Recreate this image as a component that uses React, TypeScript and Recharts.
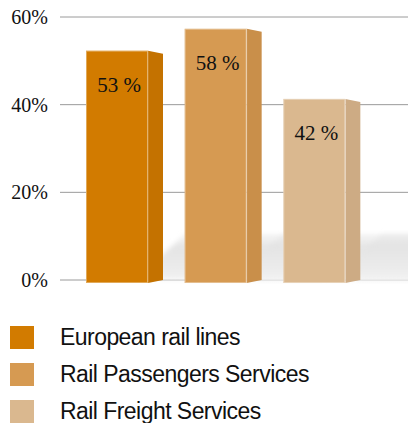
import { BarChart, Bar, XAxis, YAxis, CartesianGrid, LabelList } from 'recharts';

const categories = ['European rail lines', 'Rail Passengers Services', 'Rail Freight Services'];
const shares = [53, 58, 42];
const yTicks = [0, 20, 40, 60];

const frontColors = ['#D27B00', '#D69A52', '#DAB88F'];
const sideColors = ['#C47200', '#C98F4A', '#CDAB84'];

const data = categories.map((name, i) => ({ name, share: shares[i] }));

const FRONT = 62;
const DROP = 3;
const SERIF = 'Liberation Serif, Times New Roman, serif';

function Bar3D(props: any) {
  const { x, y, width, height, index } = props;
  const top = y + DROP;
  const base = y + height;
  const bottom = base + DROP;
  const fx = x + FRONT;
  const sr = x + width;
  const gid = `shadow-grad-${index}`;
  const fid = `shadow-blur-${index}`;
  return (
    <g>
      <defs>
        <linearGradient id={gid} x1="0" y1="0" x2="0" y2="1">
          <stop offset="0" stopColor="#e6e6e6" stopOpacity={0.4} />
          <stop offset="0.3" stopColor="#e4e4e4" />
          <stop offset="0.8" stopColor="#ececec" />
          <stop offset="1" stopColor="#f4f4f4" />
        </linearGradient>
        <filter id={fid} x="-20%" y="-30%" width="140%" height="160%">
          <feGaussianBlur stdDeviation="2.5" />
        </filter>
      </defs>
      <polygon
        points={`${sr - 4},${base} ${sr - 4},${base - 22} ${sr + 22},${base - 46} ${sr + 160},${base - 46} ${sr + 160},${base}`}
        fill={`url(#${gid})`}
        filter={`url(#${fid})`}
      />
      <polygon
        points={`${fx},${top} ${sr},${top + 3} ${sr},${bottom - 3} ${fx},${bottom}`}
        fill={sideColors[index]}
      />
      <rect x={x} y={top} width={FRONT} height={bottom - top} fill={frontColors[index]} />
      <rect x={x + 0.5} y={top + 0.5} width={FRONT - 1} height={bottom - top - 1} fill="none" stroke="#ffffff" strokeOpacity={0.35} />
      <line x1={fx} y1={top} x2={fx} y2={bottom} stroke="#ffffff" strokeOpacity={0.25} />
    </g>
  );
}

function ShareLabel(props: any) {
  const { x, y, value } = props;
  return (
    <text
      x={Number(x) + FRONT / 2 + 2}
      y={Number(y) + DROP + 41}
      textAnchor="middle"
      style={{ fontSize: 21, fontFamily: SERIF }}
      fill="#111"
    >
      {`${value} %`}
    </text>
  );
}

export default function App() {
  return (
    <div style={{ position: 'relative', width: 408, height: 423, background: '#fff', overflow: 'hidden' }}>
      <style>{'body{margin:0}'}</style>
      <BarChart
        width={408}
        height={423}
        data={data}
        margin={{ top: 17, right: 0, bottom: 143, left: 0 }}
      >
        <CartesianGrid vertical={false} stroke="#9a9a9a" strokeWidth={1} />
        <XAxis dataKey="name" hide padding={{ left: 15, right: 37 }} />
        <YAxis
          domain={[0, 60]}
          ticks={yTicks}
          width={60}
          axisLine={false}
          tickLine={false}
          tickSize={6}
          tickMargin={6}
          tickFormatter={(v) => `${v}%`}
          tick={{ fill: '#111', style: { fontSize: 20, fontFamily: SERIF } }}
        />
        <Bar dataKey="share" barSize={77} shape={<Bar3D />} isAnimationActive={false}>
          <LabelList dataKey="share" content={<ShareLabel />} />
        </Bar>
      </BarChart>
      <div style={{ position: 'absolute', top: 318.5, left: 10 }}>
        {categories.map((c, i) => (
          <div key={c} style={{ display: 'flex', alignItems: 'center', height: 37 }}>
            <div style={{ width: 24, height: 23, background: frontColors[i] }} />
            <span
              style={{
                marginLeft: 26,
                fontFamily: "'Liberation Sans', Arial, sans-serif",
                fontSize: 23,
                letterSpacing: -0.55,
                lineHeight: '37px',
                color: '#111',
                whiteSpace: 'nowrap',
              }}
            >
              {c}
            </span>
          </div>
        ))}
      </div>
    </div>
  );
}
